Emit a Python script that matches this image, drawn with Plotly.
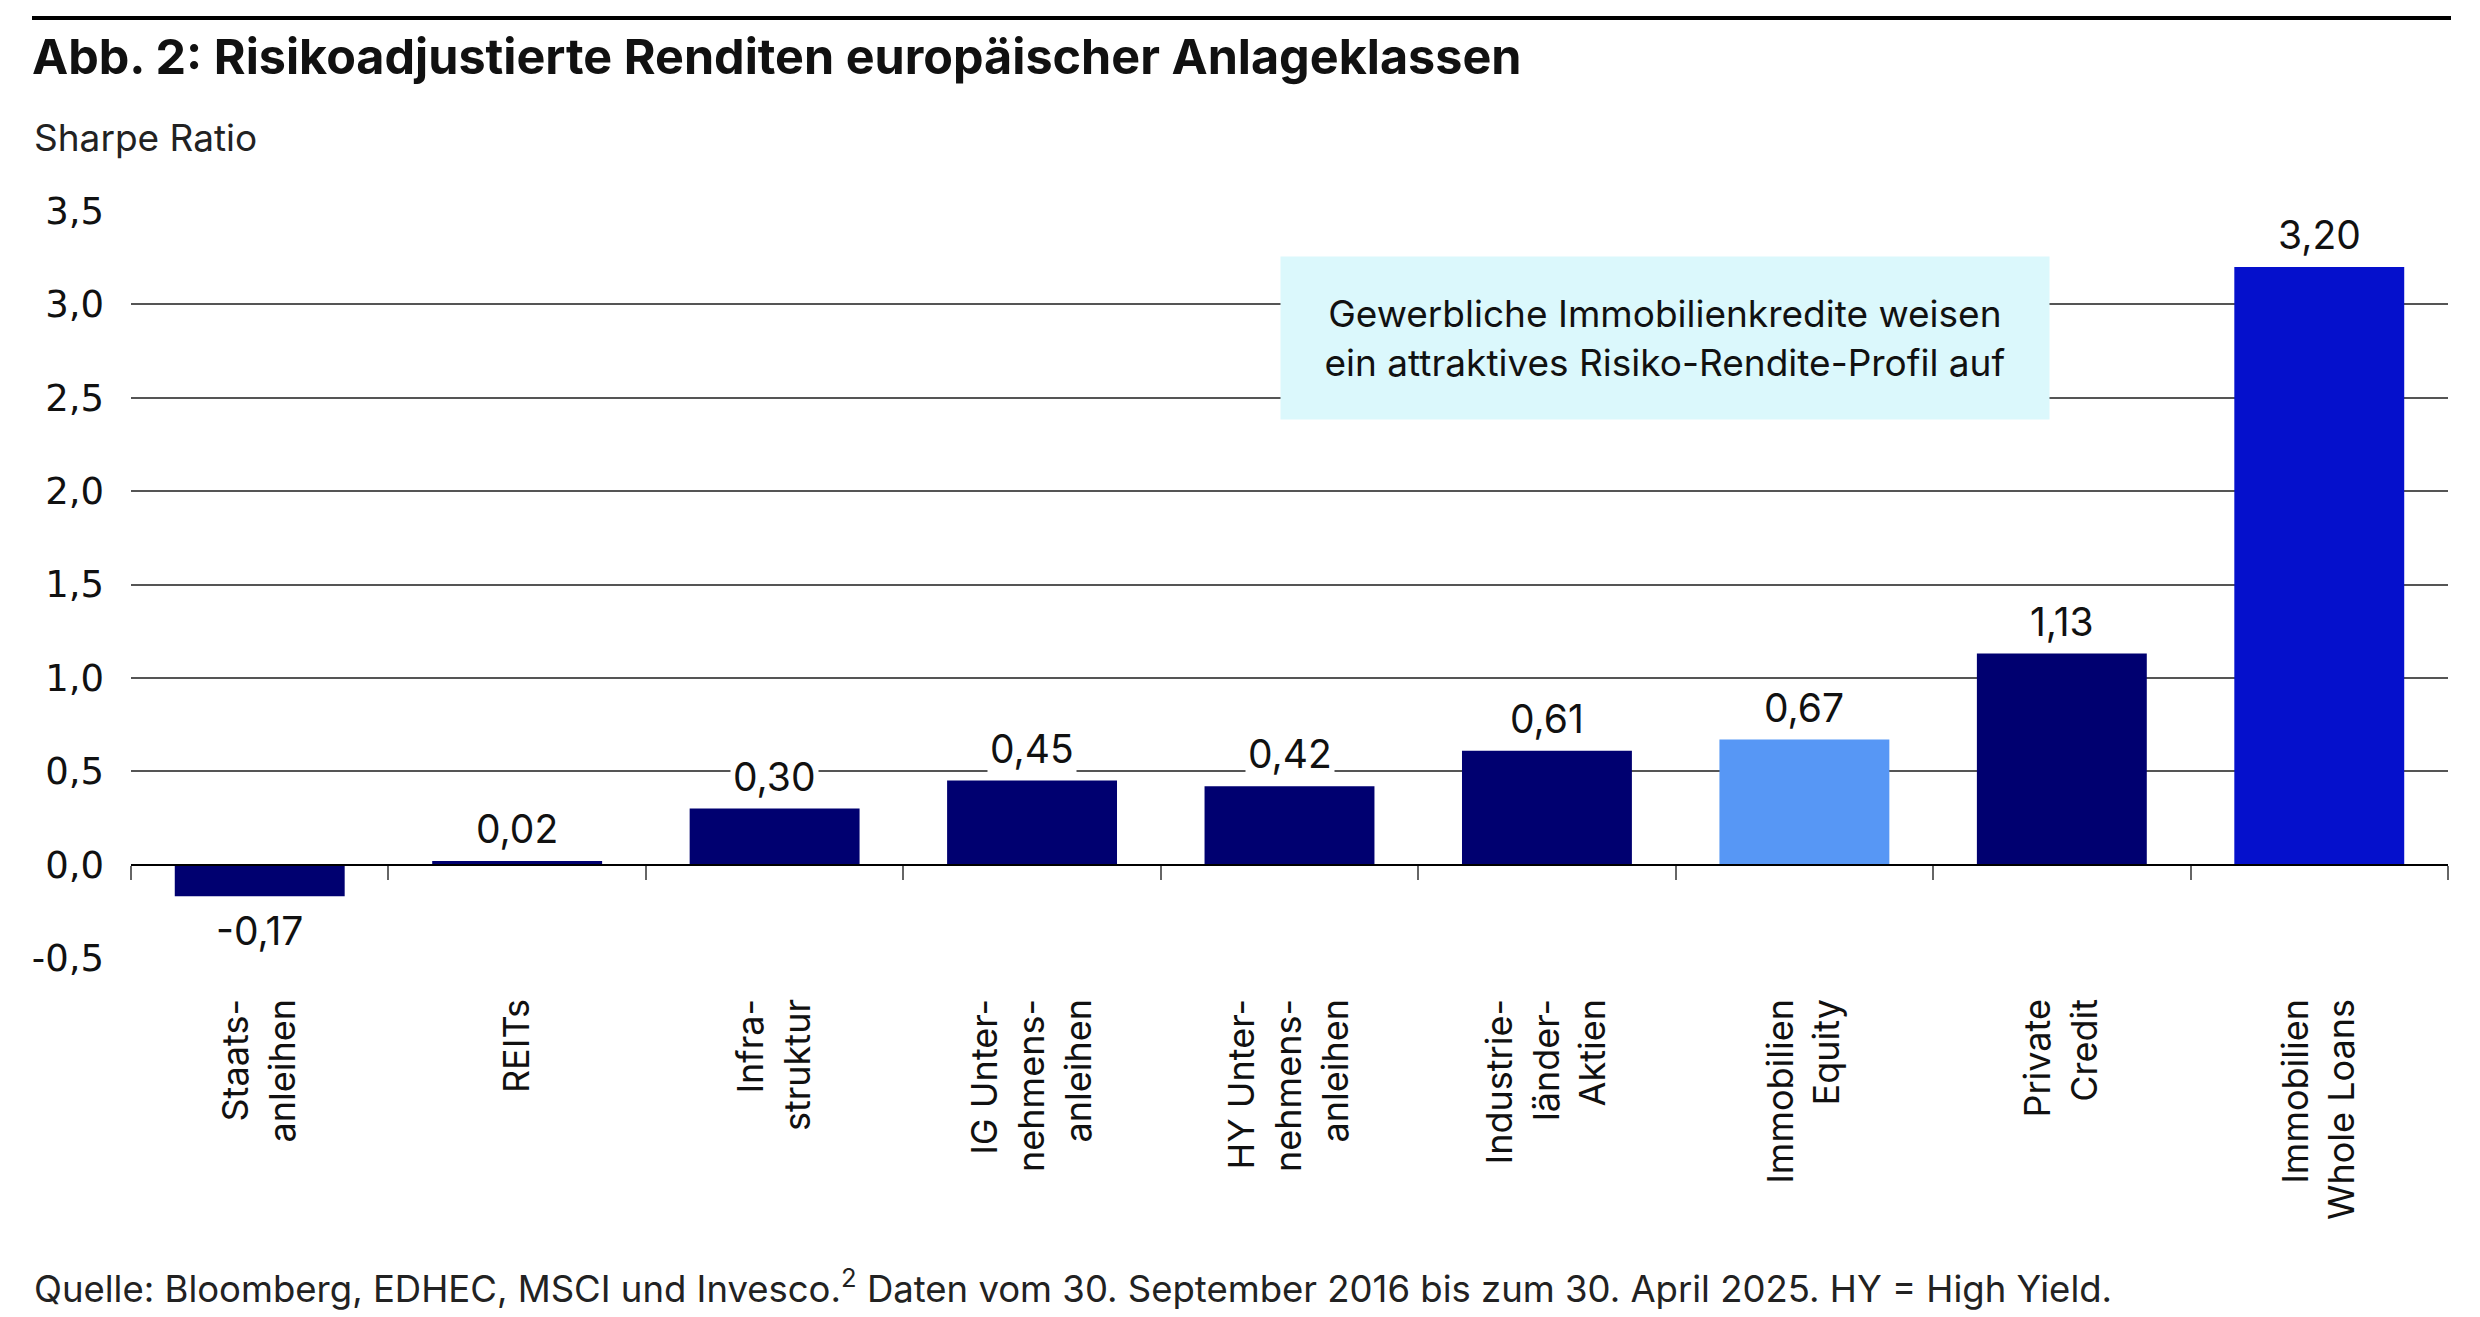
import plotly.graph_objects as go

categories = [
    "Staats-<br>anleihen",
    "REITs",
    "Infra-<br>struktur",
    "IG Unter-<br>nehmens-<br>anleihen",
    "HY Unter-<br>nehmens-<br>anleihen",
    "Industrie-<br>länder-<br>Aktien",
    "Immobilien<br>Equity",
    "Private<br>Credit",
    "Immobilien<br>Whole Loans",
]
sharpe = [-0.17, 0.02, 0.30, 0.45, 0.42, 0.61, 0.67, 1.13, 3.20]
bar_colors = ["#000070", "#000070", "#000070", "#000070", "#000070",
              "#000070", "#5797F5", "#000070", "#0510CC"]
y_ticks = [-0.5, 0.0, 0.5, 1.0, 1.5, 2.0, 2.5, 3.0, 3.5]
y_ticktext = [f"{v:.1f}".replace(".", ",") for v in y_ticks]
value_text = [f"{v:.2f}".replace(".", ",") for v in sharpe]

FONT = "Inter"
W, H = 2480, 1317
L, R, T, B = 131, 32, 211, 359
pw, ph = W - L - R, H - T - B

def px_x(px):
    return (px - L) / pw

def px_y(py):
    return (H - B - py) / ph

fig = go.Figure()
fig.add_trace(go.Bar(
    x=categories, y=sharpe,
    marker=dict(color=bar_colors, line=dict(width=0)),
    width=0.66,
    hoverinfo="skip",
))

for c, v, t in zip(categories, sharpe, value_text):
    fig.add_annotation(
        x=c, y=v, xref="x", yref="y", text=t, showarrow=False,
        yanchor="bottom" if v >= 0 else "top",
        yshift=6 if v >= 0 else -8,
        bgcolor="white", borderpad=2,
        font=dict(family=FONT, size=39, color="#111111"),
    )

fig.add_annotation(
    xref="paper", yref="paper", x=px_x(1665), y=px_y(338),
    text="Gewerbliche Immobilienkredite weisen<br>ein attraktives Risiko-Rendite-Profil auf",
    showarrow=False, align="center", xanchor="center", yanchor="middle",
    width=766, height=160, bgcolor="#DBF8FC",
    font=dict(family=FONT, size=37, color="#111111"),
)

fig.add_annotation(
    xref="paper", yref="paper", x=px_x(32), y=px_y(137),
    text="Sharpe Ratio", showarrow=False, xanchor="left", yanchor="middle",
    font=dict(family=FONT, size=37, color="#222222"),
)
fig.add_annotation(
    xref="paper", yref="paper", x=px_x(32), y=px_y(1286),
    text="Quelle: Bloomberg, EDHEC, MSCI und Invesco.<sup>2</sup> Daten vom 30. September 2016 bis zum 30. April 2025. HY = High Yield.",
    showarrow=False, xanchor="left", yanchor="middle",
    font=dict(family=FONT, size=36.5, color="#222222"),
)

fig.add_shape(type="line", xref="paper", yref="paper",
              x0=px_x(32), x1=px_x(2451), y0=px_y(18), y1=px_y(18),
              line=dict(color="black", width=4))

fig.update_layout(
    width=W, height=H,
    margin=dict(l=L, r=R, t=T, b=B),
    paper_bgcolor="white", plot_bgcolor="white",
    showlegend=False,
    bargap=0.34,
    title=dict(
        text="<b>Abb. 2: Risikoadjustierte Renditen europäischer Anlageklassen</b>",
        xref="container", yref="container", x=32 / W, y=1 - 57 / H,
        xanchor="left", yanchor="middle",
        font=dict(family=FONT, size=48.5, color="#111111"),
    ),
    font=dict(family=FONT),
)

fig.update_yaxes(
    range=[-0.5, 3.5], tickvals=y_ticks, ticktext=y_ticktext,
    showgrid=True, gridcolor="#555555", gridwidth=2,
    zeroline=False, showline=False, ticks="",
    tickfont=dict(family="DejaVu Sans", size=37, color="#111111"),
    ticklabelstandoff=26,
)
fig.update_xaxes(
    anchor="free", position=0.125,
    showline=True, linecolor="black", linewidth=2,
    ticks="outside", tickson="boundaries", ticklen=14, tickcolor="#666666", tickwidth=2,
    tickangle=-90, ticklabelstandoff=119,
    tickfont=dict(family=FONT, size=36, color="#111111"),
    showgrid=False,
)

fig.write_html("out.html", config={"displayModeBar": False},
               post_script="document.body.style.margin='0';document.body.style.overflow='hidden';")
